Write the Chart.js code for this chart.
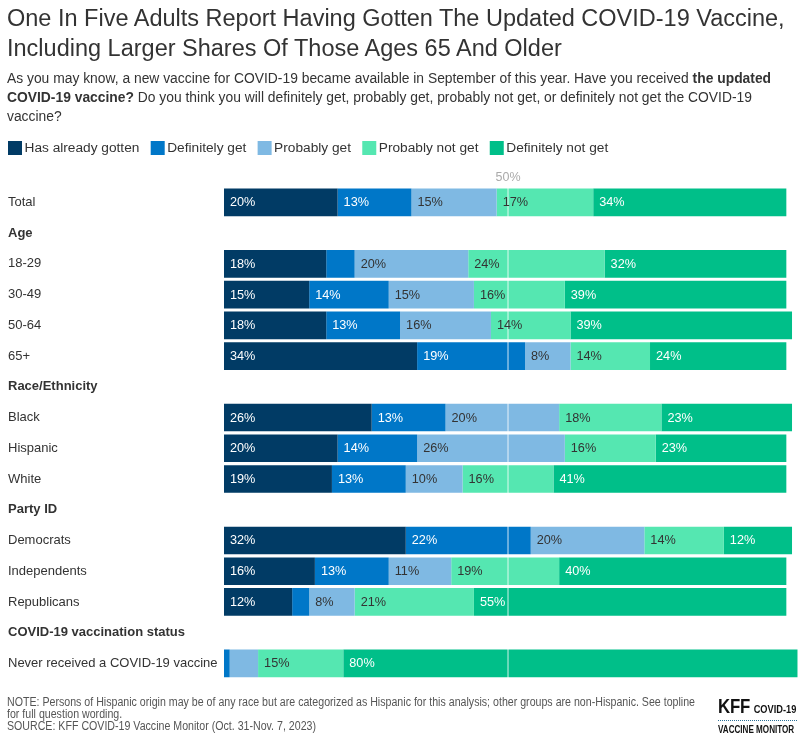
<!DOCTYPE html>
<html>
<head>
<meta charset="utf-8">
<script src="https://cdn.jsdelivr.net/npm/chart.js@4.4.0/dist/chart.umd.min.js"></script>
<style>
  html, body { margin:0; padding:0; background:#fff; }
  body { width:800px; height:741px; position:relative; overflow:hidden; font-family:"Liberation Sans", Arial, sans-serif; color:#333; }
  #wrap { position:absolute; left:0; top:0; width:800px; height:741px; }
  #title { position:absolute; left:7px; top:3px; font-size:23.5px; line-height:30px; color:#333; white-space:nowrap; }
  #sub { position:absolute; left:7px; top:68.5px; font-size:13.85px; line-height:19px; color:#333; white-space:nowrap; }
  #note { position:absolute; left:7px; top:695.5px; font-size:12.5px; line-height:12.3px; color:#555; white-space:nowrap; transform:scaleX(0.85); transform-origin:left top; }
  #logo { position:absolute; left:718px; top:697px; width:82px; color:#111; }
</style>
</head>
<body>
<div id="wrap"><canvas id="c" width="800" height="741" style="width:800px;height:741px"></canvas></div>
<div id="title">One In Five Adults Report Having Gotten The Updated COVID-19 Vaccine,<br>Including Larger Shares Of Those Ages 65 And Older</div>
<div id="sub">As you may know, a new vaccine for COVID-19 became available in September of this year. Have you received <b>the updated</b><br><b>COVID-19 vaccine?</b> Do you think you will definitely get, probably get, probably not get, or definitely not get the COVID-19<br>vaccine?</div>
<div id="note">NOTE: Persons of Hispanic origin may be of any race but are categorized as Hispanic for this analysis; other groups are non-Hispanic. See topline<br>for full question wording.<br>SOURCE: KFF COVID-19 Vaccine Monitor (Oct. 31-Nov. 7, 2023)</div>
<div id="logo">
  <div style="white-space:nowrap;line-height:19px;transform:scaleX(0.84);transform-origin:left top"><span style="font-weight:bold;font-size:20px;letter-spacing:-0.3px">KFF</span> <span style="font-weight:bold;font-size:11px">COVID-19</span></div>
  <div style="border-top:1px dotted #2a6f97;width:79px;margin:1px 0 3px 0"></div>
  <div style="font-weight:bold;font-size:10px;line-height:11px;white-space:nowrap;transform:scaleX(0.81);transform-origin:left top">VACCINE MONITOR</div>
</div>
<script>
const categories = ['Total','Age','18-29','30-49','50-64','65+','Race/Ethnicity','Black','Hispanic','White','Party ID','Democrats','Independents','Republicans','COVID-19 vaccination status','Never received a COVID-19 vaccine'];
const headers = ['Age','Race/Ethnicity','Party ID','COVID-19 vaccination status'];
const seriesNames = ['Has already gotten','Definitely get','Probably get','Probably not get','Definitely not get'];
const alreadyGotten    = [20,null,18,15,18,34,null,26,20,19,null,32,16,12,null,0];
const definitelyGet    = [13,null,5,14,13,19,null,13,14,13,null,22,13,3,null,1];
const probablyGet      = [15,null,20,15,16,8,null,20,26,10,null,20,11,8,null,5];
const probablyNotGet   = [17,null,24,16,14,14,null,18,16,16,null,14,19,21,null,15];
const definitelyNotGet = [34,null,32,39,39,24,null,23,23,41,null,12,40,55,null,80];
const referenceValue = 50;
const referenceLabel = '50%';

const colors = ['#013B65','#0077C8','#7FB9E3','#55E7B1','#00BF89'];
const labelColors = ['#ffffff','#ffffff','#333333','#333333','#ffffff'];
const FONT = '"Liberation Sans", Arial, sans-serif';

const seriesData = [alreadyGotten, definitelyGet, probablyGet, probablyNotGet, definitelyNotGet];

const overlay = {
  id: 'overlay',
  afterDatasetsDraw(chart) {
    const ctx = chart.ctx;
    const area = chart.chartArea;
    const xs = chart.scales.x;
    // reference line
    const rx = xs.getPixelForValue(referenceValue);
    ctx.save();
    ctx.strokeStyle = 'rgba(255,255,255,0.55)';
    ctx.lineWidth = 1.5;
    ctx.beginPath();
    ctx.moveTo(rx, area.top);
    ctx.lineTo(rx, area.bottom);
    ctx.stroke();
    ctx.fillStyle = '#aaaaaa';
    ctx.font = '12.5px ' + FONT;
    ctx.textAlign = 'center';
    ctx.textBaseline = 'middle';
    ctx.fillText(referenceLabel, rx, area.top - 9);
    // value labels
    ctx.font = '12.7px ' + FONT;
    ctx.textAlign = 'left';
    chart.data.datasets.forEach((ds, i) => {
      const meta = chart.getDatasetMeta(i);
      meta.data.forEach((el, j) => {
        const v = ds.data[j];
        if (v == null || v < 6) return;
        ctx.fillStyle = labelColors[i];
        const start = Math.min(el.base, el.x);
        ctx.fillText(v + '%', start + 6, el.y + 0.5);
      });
    });
    // legend
    ctx.font = '13.7px ' + FONT;
    ctx.textBaseline = 'middle';
    let lx = 8;
    const ly = 148;
    chart.data.datasets.forEach((ds, i) => {
      ctx.fillStyle = ds.backgroundColor;
      ctx.fillRect(lx, ly - 7, 14, 14);
      ctx.fillStyle = '#333333';
      ctx.fillText(ds.label, lx + 16.5, ly + 0.5);
      lx += 14 + 2.6 + ctx.measureText(ds.label).width + 11.2;
    });
    ctx.restore();
  }
};

new Chart(document.getElementById('c'), {
  type: 'bar',
  data: {
    labels: categories,
    datasets: seriesNames.map((name, i) => ({
      label: name,
      data: seriesData[i],
      backgroundColor: colors[i],
      borderWidth: 0,
      barPercentage: 0.9,
      categoryPercentage: 1.0
    }))
  },
  options: {
    indexAxis: 'y',
    responsive: false,
    animation: false,
    layout: { padding: { top: 187, bottom: 62.2, left: 8, right: 2.3 } },
    plugins: { legend: { display: false }, tooltip: { enabled: false }, title: { display: false } },
    scales: {
      x: { stacked: true, min: 0, max: 101, display: false },
      y: {
        stacked: true,
        grid: { display: false },
        border: { display: false },
        afterFit(scale) { scale.width = 216; },
        ticks: {
          autoSkip: false,
          crossAlign: 'far',
          padding: 0,
          color: '#333333',
          font: (c) => ({ family: FONT, size: 13, weight: headers.includes(categories[c.index]) ? 'bold' : 'normal' })
        }
      }
    }
  },
  plugins: [overlay]
});
</script>
</body>
</html>
